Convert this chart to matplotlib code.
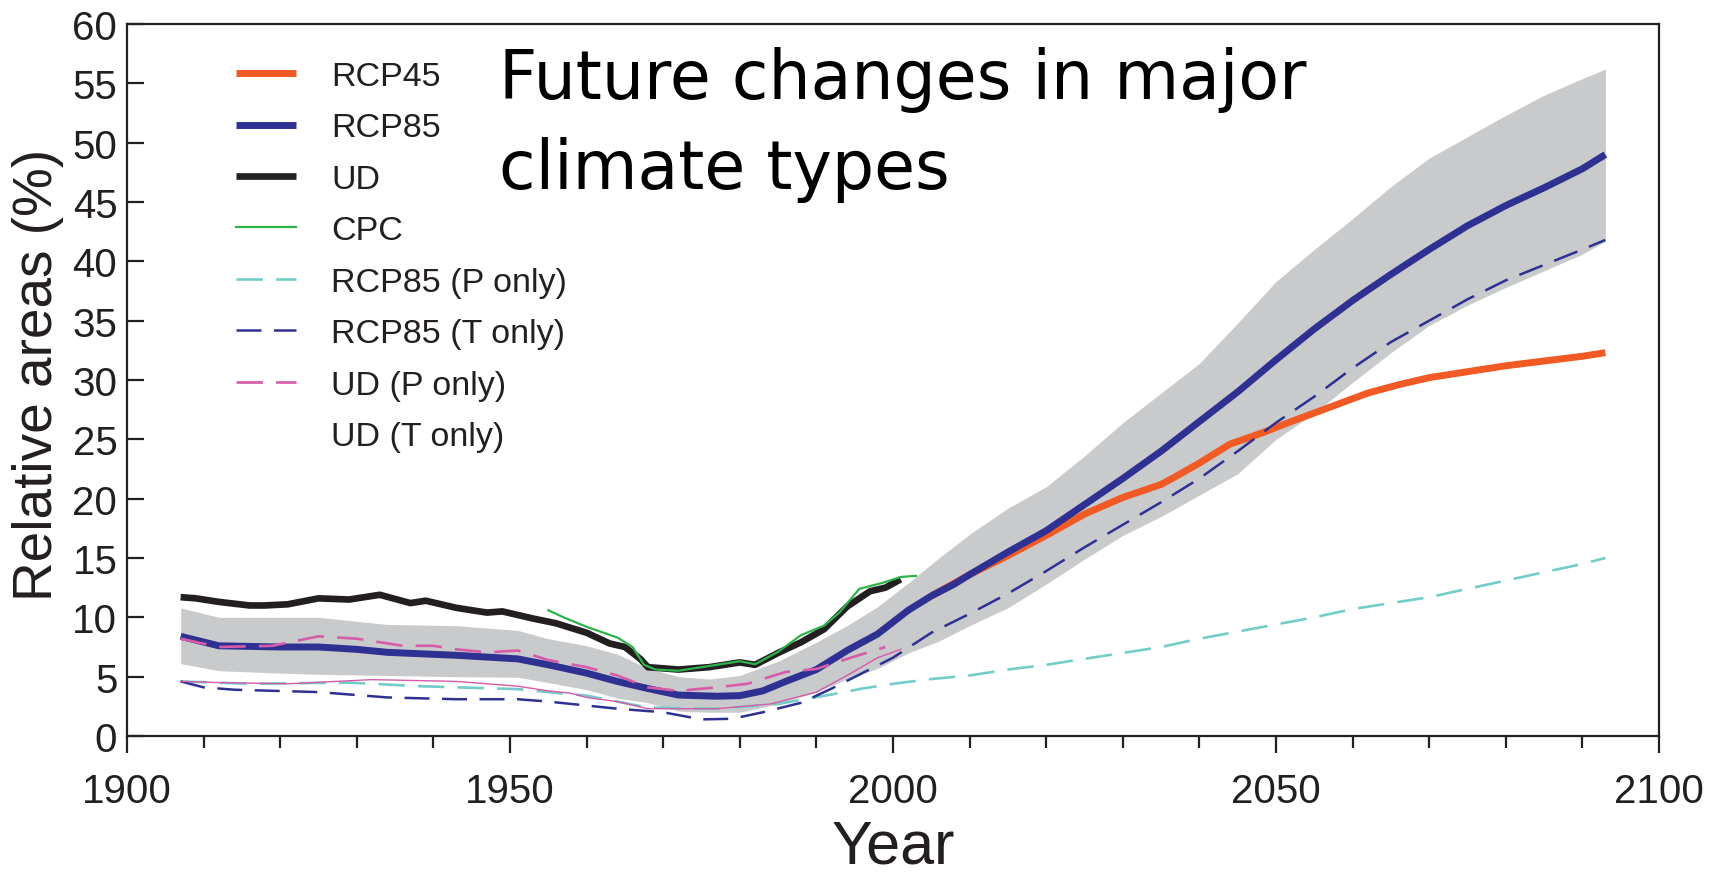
import matplotlib
matplotlib.use("Agg")
import matplotlib.pyplot as plt
from matplotlib.lines import Line2D

# ---------------- data (relative area, %) ----------------
band_years = [1907, 1912, 1920, 1925, 1934, 1943, 1951, 1955, 1960, 1964, 1968, 1972,
              1976, 1980, 1985, 1990, 1994, 1998, 2002, 2006, 2010, 2015, 2020, 2025,
              2030, 2035, 2040, 2045, 2050, 2055, 2060, 2065, 2070, 2075, 2080, 2085,
              2090, 2093]
band_upper = [10.8, 10.0, 10.0, 10.0, 9.4, 9.3, 8.9, 8.2, 7.6, 6.9, 5.7, 5.0,
              4.8, 5.1, 6.3, 7.9, 9.3, 10.9, 12.9, 15.0, 17.0, 19.2, 21.0, 23.6,
              26.4, 28.9, 31.4, 34.8, 38.3, 41.0, 43.6, 46.3, 48.7, 50.5, 52.3, 54.0,
              55.4, 56.2]
band_lower = [6.1, 5.5, 5.3, 5.2, 5.1, 5.0, 4.95, 4.5, 3.9, 3.2, 2.8, 2.1,
              2.0, 2.0, 2.7, 3.7, 4.8, 5.7, 7.0, 8.0, 9.3, 10.8, 12.8, 14.9,
              16.9, 18.5, 20.3, 22.1, 25.0, 27.2, 29.8, 32.3, 34.6, 36.3, 37.8, 39.2,
              40.6, 41.7]

rcp85_years = [1907, 1912, 1920, 1925, 1930, 1934, 1943, 1951, 1955, 1960, 1964, 1968,
               1972, 1977, 1980, 1983, 1986, 1990, 1994, 1998, 2002, 2005, 2008, 2010,
               2015, 2020, 2025, 2030, 2035, 2040, 2045, 2050, 2055, 2060, 2065, 2070,
               2075, 2080, 2085, 2090, 2093]
rcp85 = [8.4, 7.6, 7.5, 7.5, 7.3, 7.05, 6.8, 6.5, 6.0, 5.3, 4.6, 4.0,
         3.45, 3.35, 3.4, 3.8, 4.6, 5.6, 7.2, 8.6, 10.6, 11.8, 12.8, 13.6,
         15.5, 17.3, 19.5, 21.7, 24.0, 26.5, 29.0, 31.7, 34.3, 36.7, 38.9, 41.0,
         43.0, 44.7, 46.2, 47.8, 49.0]

rcp45_years = [2005, 2010, 2015, 2020, 2025, 2030, 2035, 2037, 2040, 2044, 2048, 2052,
               2057, 2062, 2066, 2070, 2075, 2080, 2085, 2090, 2093]
rcp45 = [11.8, 13.6, 15.2, 16.9, 18.7, 20.1, 21.2, 21.9, 23.0, 24.6, 25.5, 26.5,
         27.7, 28.9, 29.6, 30.2, 30.7, 31.2, 31.6, 32.0, 32.3]

ud_years = [1907, 1909, 1912, 1916, 1918, 1921, 1925, 1929, 1933, 1937, 1939, 1943,
            1947, 1949, 1953, 1956, 1960, 1963, 1965, 1967, 1968, 1972, 1976, 1980,
            1982, 1985, 1988, 1991, 1994, 1997, 1999, 2001]
ud = [11.7, 11.6, 11.3, 11.0, 11.0, 11.1, 11.6, 11.5, 11.9, 11.2, 11.4, 10.8,
      10.4, 10.5, 9.9, 9.5, 8.7, 7.8, 7.5, 6.5, 5.8, 5.6, 5.8, 6.2,
      6.0, 7.0, 7.9, 9.0, 10.9, 12.2, 12.5, 13.2]

cpc_years = [1955, 1957, 1960, 1964, 1966, 1967.5, 1969, 1972, 1977, 1980, 1982, 1985,
             1988, 1991, 1993, 1995.6, 1998.6, 2001, 2003]
cpc = [10.6, 10.0, 9.2, 8.3, 7.5, 6.0, 5.6, 5.5, 6.0, 6.3, 6.05, 7.1,
       8.5, 9.3, 10.4, 12.4, 12.9, 13.4, 13.5]

rcp85_p_years = [1907, 1916, 1929, 1938, 1951, 1955, 1960, 1968, 1977, 1985, 1992, 1996,
                 2000, 2005, 2010, 2015, 2020, 2025, 2030, 2035, 2040, 2045, 2050, 2055,
                 2060, 2065, 2070, 2075, 2080, 2085, 2090, 2093]
rcp85_p = [4.6, 4.4, 4.5, 4.2, 3.95, 3.7, 3.4, 2.4, 2.3, 2.7, 3.5, 4.0,
           4.4, 4.8, 5.1, 5.6, 6.0, 6.5, 7.0, 7.5, 8.2, 8.8, 9.4, 10.0,
           10.7, 11.2, 11.7, 12.4, 13.1, 13.8, 14.5, 15.0]

rcp85_t_years = [1907, 1910, 1914, 1925, 1934, 1943, 1951, 1955, 1964, 1970, 1975, 1979,
                 1983, 1988, 1992, 1996, 2000, 2005, 2010, 2015, 2020, 2025, 2030, 2035,
                 2040, 2045, 2050, 2055, 2060, 2065, 2070, 2075, 2080, 2085, 2090, 2093]
rcp85_t = [4.6, 4.1, 3.9, 3.7, 3.25, 3.1, 3.1, 2.9, 2.3, 2.0, 1.4, 1.45,
           2.0, 2.8, 4.0, 5.3, 6.6, 8.7, 10.3, 12.0, 13.9, 15.9, 17.8, 19.7,
           21.7, 24.0, 26.4, 28.6, 31.0, 33.2, 35.0, 36.8, 38.4, 39.7, 41.0, 41.8]

ud_p_years = [1907, 1912, 1919, 1925, 1930, 1936, 1940, 1943, 1947, 1951, 1955, 1960,
              1964, 1968, 1972, 1977, 1981, 1986, 1990, 1994, 1999]
ud_p = [8.2, 7.5, 7.6, 8.4, 8.2, 7.6, 7.6, 7.3, 7.05, 7.2, 6.4, 5.8,
        5.1, 4.1, 3.8, 4.1, 4.4, 5.4, 5.65, 6.5, 7.5]

ud_t_years = [1907, 1912, 1921, 1932, 1943, 1951, 1955, 1958, 1960, 1964, 1968, 1977,
              1984, 1990, 1994, 1998, 2001]
ud_t = [4.6, 4.5, 4.4, 4.75, 4.6, 4.2, 3.8, 3.6, 3.25, 2.9, 2.3, 2.3,
        2.7, 3.7, 5.1, 6.6, 7.3]

labels = ["RCP45", "RCP85", "UD", "CPC", "RCP85 (P only)", "RCP85 (T only)",
          "UD (P only)", "UD (T only)"]
x_ticks = [1900, 1950, 2000, 2050, 2100]
y_ticks = list(range(0, 61, 5))

# ---------------- styling ----------------
plt.rcParams['font.family'] = ['Liberation Sans', 'DejaVu Sans']
C_ORANGE = '#F15A24'
C_BLUE = '#2E3192'
C_BLACK = '#231F20'
C_GREEN = '#2DB34A'
C_CYAN = '#72CDC9'
C_PINK = '#D65BA8'
C_BAND = '#C9CACC'
AX_COL = '#231F20'

W, H = 1719, 879
fig = plt.figure(figsize=(W / 100, H / 100), dpi=100)
L, R, T, B = 127, 1659, 25, 737
ax = fig.add_axes([L / W, 1 - B / H, (R - L) / W, (B - T) / H])

ax.fill_between(band_years, band_lower, band_upper, color=C_BAND, lw=0, zorder=1)

dash = (0, (10, 5))
l45, = ax.plot(rcp45_years, rcp45, color=C_ORANGE, lw=5, zorder=3, solid_capstyle='butt')
l85, = ax.plot(rcp85_years, rcp85, color=C_BLUE, lw=5, zorder=4, solid_capstyle='butt')
lud, = ax.plot(ud_years, ud, color=C_BLACK, lw=4.8, zorder=4, solid_capstyle='butt')
lcpc, = ax.plot(cpc_years, cpc, color=C_GREEN, lw=1.6, zorder=5)
lp85, = ax.plot(rcp85_p_years, rcp85_p, color=C_CYAN, lw=1.9, ls=dash, zorder=5)
lt85, = ax.plot(rcp85_t_years, rcp85_t, color=C_BLUE, lw=1.8, ls=dash, zorder=5)
lpud, = ax.plot(ud_p_years, ud_p, color=C_PINK, lw=1.9, ls=dash, zorder=6)
ltud, = ax.plot(ud_t_years, ud_t, color=C_PINK, lw=1.0, zorder=6)

handles = [l45, l85, lud, lcpc, lp85, lt85, lpud,
           Line2D([], [], color='none')]
leg = ax.legend(handles, labels, loc='upper left',
                bbox_to_anchor=((236 - L) / (R - L), (B - 62) / (B - T)),
                frameon=False, borderaxespad=0, borderpad=0,
                handlelength=1.75, handletextpad=1.04, labelspacing=0.6,
                prop={'size': 24.5})
for txt in leg.get_texts():
    txt.set_color(AX_COL)

ax.set_xlim(1900, 2100)
ax.set_ylim(0, 60)
ax.set_xticks(x_ticks)
ax.set_xticks(list(range(1900, 2101, 10)), minor=True)
ax.set_yticks(y_ticks)
ax.tick_params(axis='x', which='major', direction='out', length=12, width=1.6,
               pad=14, labelsize=29, colors=AX_COL)
ax.tick_params(axis='x', which='minor', direction='out', length=8.5, width=1.6,
               colors=AX_COL)
ax.tick_params(axis='y', which='major', direction='in', length=12, width=1.6,
               pad=7, labelsize=29, colors=AX_COL)
for s in ax.spines.values():
    s.set_linewidth(1.6)
    s.set_color(AX_COL)

ax.set_xlabel('Year', fontsize=44, color=AX_COL, labelpad=6)
ax.set_ylabel('Relative areas (%)', fontsize=39.5, color=AX_COL, labelpad=6)
ax.yaxis.label.set_y(0.509)

fig.text(499 / W, 1 - 47 / H, 'Future changes in major\nclimate types',
         family='DejaVu Sans', fontsize=48, color='black', ha='left', va='top',
         linespacing=1.46)

fig.savefig('out.png', dpi=100)
